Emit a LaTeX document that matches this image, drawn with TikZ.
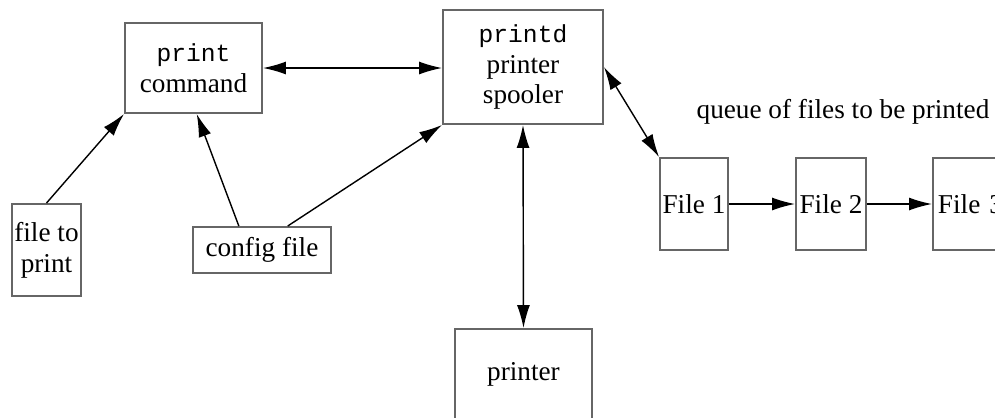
\documentclass[tikz,border=0pt]{standalone}
\usepackage{fontspec}
\setmainfont{Liberation Serif}
\setmonofont{Liberation Mono}
\usetikzlibrary{arrows.meta}
\newcommand\prog[1]{{\ttfamily\fontsize{14}{17.5}\selectfont #1}}

\begin{document}
\begin{tikzpicture}[x=0.2mm,y=-0.2mm,
    box/.style={draw=black!60,line width=1.1pt,align=center,inner sep=0pt,
      font=\fontsize{15.5}{17.5}\selectfont},
    note/.style={font=\fontsize{15.5}{17.5}\selectfont},
    link/.style={line width=0.8pt,-{Latex[length=4.6mm,width=2.6mm]}},
    both/.style={line width=0.8pt,{Latex[length=4.6mm,width=2.6mm]}-{Latex[length=4.6mm,width=2.6mm]}}]
  \clip (0,0) rectangle (995,417);
  \fill[white] (0,0) rectangle (995,417);

  % programs
  \node[box,minimum width=27.4mm,minimum height=18mm] (print) at (193.5,68) {\prog{print}\\command};
  \node[box,minimum width=32mm,minimum height=22.8mm] (printd) at (523,67) {\prog{printd}\\printer\\spooler};
  \node[box,minimum width=13.8mm,minimum height=18.4mm] (source) at (46.5,250) {file to\\print};
  \node[box,minimum width=27.6mm,minimum height=9.2mm] (config) at (262,250) {config file};
  \node[box,minimum width=27.4mm,minimum height=18mm] (printer) at (523.5,374) {printer};

  % queue
  \node[note] (queue) at (843,112) {queue of files to be printed};
  \node[box,minimum width=13.6mm,minimum height=18.4mm] (file1) at (694,204) {File 1};
  \node[box,minimum width=14mm,minimum height=18.4mm] (file2) at (831,204) {File 2};
  \node[box,minimum height=18.4mm,inner xsep=1mm,text width=15mm,align=left,anchor=west] (file3) at (932,204) {File 3};

  \draw[link] (source.north) -- (print.south west);
  \draw[link] (config.134) -- (print.-86);
  \draw[link] (config.43) -- (printd.south west);
  \draw[both] (print.east) -- (print.east -| printd.west);
  \draw[both] (printd.east) -- (file1.north west);
  \draw[both] (printd.south) -- (printer.north);
  \draw[link] (file1.east) -- (file2.west);
  \draw[link] (file2.east) -- (file3.west);
\end{tikzpicture}
\end{document}
